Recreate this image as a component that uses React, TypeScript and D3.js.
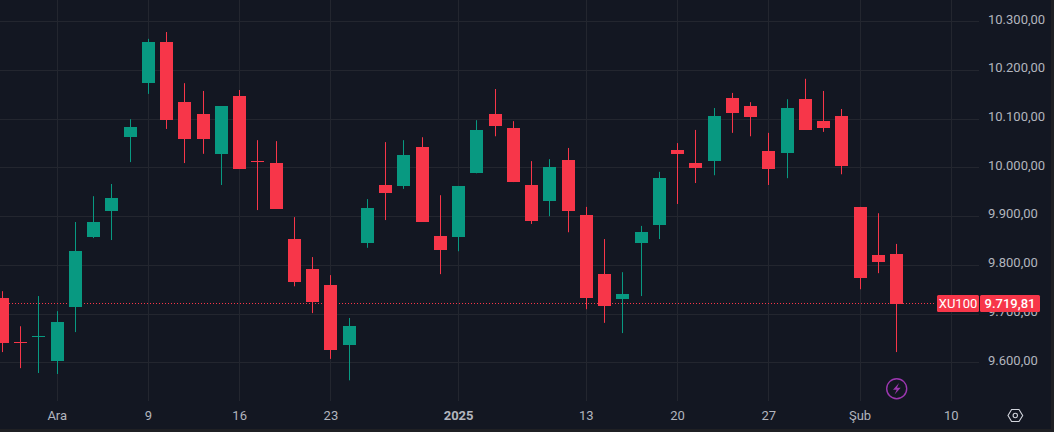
import React from "react";
import * as d3 from "d3";

const W = 1054, H = 432;
const opens =  [9732,9641,9653,9602,9713,9857,9910,10062,10173,10258,10134,10110,10028,10147,10012.5,10009,9853,9791,9759,9635,9845,9964,9962,10042,9859,9857,9988,10110,10081,9964,9931,10015,9902,9781,9730,9845,9882,10036,10009,10013,10143,10126,10034,10030,10140,10095,10106,9919,9820,9822];
const highs =  [9746,9674,9736,9705,9888,9941,9966,10099,10264,10278,10173,10157,10126,10159,10056,10054,9898,9816,9779,9691,9935,10052,10056,10062,9943,9962,10097,10161,10095,10013,10017,10040,9919,9853,9785,9880,9991,10050,10077,10122,10153,10134,10071,10140,10182,10157,10120,9919,9906,9843];
const lows =   [9621,9588,9578,9576,9662,9855,9851,10011,10151,10079,10009,10028,9964,9997,9912.5,9915,9756,9701,9607,9563,9835,9892,9956,9888,9781,9828,9988,10064,9970,9884,9900,9867,9709,9681,9660,9736,9853,9925,9968,9984,10071,10064,9964,9978,10077,10073,9986,9750,9783,9621];
const closes = [9639,9640,9653.5,9683,9828,9888,9937,10083,10258,10097,10058,10058,10126,9997,10012,9915,9765,9724,9625,9674,9917,9947,10025,9888,9830,9962,10077,10085,9970,9890,10001,9910,9732,9715,9740,9867,9978,10028,9999,10106,10112,10104,9997,10122,10077,10081,10003,9773,9806,9719.81];
const yTicks = [10300,10200,10100,10000,9900,9800,9700,9600];
const xTickIdx = [3,8,13,18,25,32,37,42,47,52];
const xTickLabels = ["Ara","9","16","23","2025","13","20","27","Şub","10"];
const lastPrice = 9719.81;
const symbol = "XU100";

const BG = "#131722", GRID = "#23262F", UP = "#089981", DOWN = "#F73649", TXT = "#B2B5BE";
const FONT = "Roboto, 'Open Sans', sans-serif";

const x = d3.scaleLinear().domain([0, 49]).range([2.5, 896.5]);
const y = d3.scaleLinear().domain([9600, 10300]).range([362.3, 21.3]);
const fmt = (v: number) => {
  const [a, b] = v.toFixed(2).split(".");
  return a.replace(/\B(?=(\d{3})+$)/g, ".") + "," + b;
};

export default function App() {
  const yLast = Math.round(y(lastPrice)) - 0.5;
  return (
    <svg width={W} height={H} viewBox={`0 0 ${W} ${H}`}
      style={{ position: "fixed", left: 0, top: 0, display: "block", background: BG }}>
      <rect width={W} height={H} fill={BG} />
      {yTicks.map(t => (
        <line key={t} x1={0} x2={979} y1={Math.round(y(t)) + 0.5} y2={Math.round(y(t)) + 0.5} stroke={GRID} />
      ))}
      {xTickIdx.map(i => (
        <line key={i} x1={Math.floor(x(i)) + 0.5} x2={Math.floor(x(i)) + 0.5} y1={0} y2={401} stroke={GRID} />
      ))}
      <line x1={0} x2={936} y1={yLast} y2={yLast} stroke={DOWN} strokeDasharray="1 2" />
      {opens.map((o, i) => {
        const c = closes[i];
        const col = c >= o ? UP : DOWN;
        const cx = Math.round(x(i) - 0.5);
        const top = Math.round(y(Math.max(o, c)));
        const bot = Math.round(y(Math.min(o, c)));
        return (
          <g key={i}>
            <rect x={cx} y={y(highs[i])} width={1} height={y(lows[i]) - y(highs[i])} fill={col} />
            <rect x={cx - 6} y={top} width={13} height={Math.max(1, bot - top)} fill={col} />
          </g>
        );
      })}
      {yTicks.map(t => (
        <text key={t} x={988} y={y(t) + 2.2} fill={TXT} fontFamily={FONT} fontSize={13}>{fmt(t)}</text>
      ))}
      {xTickIdx.map((i, k) => (
        <text key={i} x={x(i)} y={419.5} textAnchor="middle" fill={TXT} fontFamily={FONT} fontSize={13}
          fontWeight={xTickLabels[k] === "2025" ? 700 : 400}>{xTickLabels[k]}</text>
      ))}
      <rect x={937} y={295} width={42} height={17} rx={1.5} fill={DOWN} />
      <rect x={980} y={295} width={60} height={17} rx={1.5} fill={DOWN} />
      <text x={958} y={308} textAnchor="middle" fill="#fff" fontFamily={FONT} fontSize={13}>{symbol}</text>
      <text x={1010} y={308} textAnchor="middle" fill="#fff" fontFamily={FONT} fontSize={13} fontWeight={500}>{fmt(lastPrice)}</text>
      <circle cx={896.7} cy={388.7} r={10} fill="none" stroke="#9C37B0" strokeWidth={1.4} />
      <path d="M899 383 L893 389.8 L896.7 389.8 L894.6 394.5 L900.7 387.7 L897 387.7 Z" fill="#9C37B0" />
      <path d="M1011.6 409.5 L1019 409.5 L1022.7 415.5 L1019 421.5 L1011.6 421.5 L1008 415.5 Z" fill="none" stroke="#D1D4DC" strokeWidth={1.1} />
      <circle cx={1015.3} cy={415.5} r={2.2} fill="none" stroke="#D1D4DC" strokeWidth={1.1} />
      <rect x={0} y={429} width={W} height={3} fill="#1F2024" />
      <rect x={1051} y={0} width={3} height={H} fill="#1F2024" />
    </svg>
  );
}
